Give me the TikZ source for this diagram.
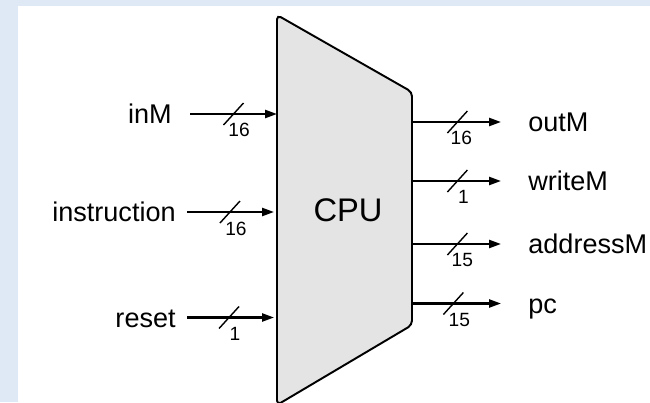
\documentclass[tikz,border=0pt]{standalone}
\usepackage{fontspec}
\setmainfont{Liberation Sans}
\usetikzlibrary{arrows.meta}

\definecolor{bgblue}{HTML}{DEE9F5}
\definecolor{cpugray}{HTML}{E4E4E4}

\tikzset{
  bus/.style={line width=1.2pt, -{Triangle[length=6.8pt,width=4.6pt]}},
  tick/.style={line width=0.8pt},
  port/.style={font=\fontsize{15.4pt}{18pt}\selectfont, inner ysep=0pt,
    text height=11pt, text depth=0pt},
  inport/.style={port, anchor=east, inner xsep=0.22cm},
  outport/.style={port, anchor=west, inner xsep=0.54cm},
  busnum/.style={font=\fontsize{10.9pt}{13pt}\selectfont, inner sep=0pt,
    text height=7.8pt, text depth=0pt},
  cpubox/.style={draw, line width=1.1pt, fill=cpugray, rounded corners=2.5pt},
}

\begin{document}
\begin{tikzpicture}
  \useasboundingbox (0,0) rectangle (13,8.04);
  \fill[bgblue] (0,0) rectangle (13,8.04);
  \fill[white] (0.36,0) rectangle (13,7.92);

  % the CPU
  \draw[cpubox] (5.54,-0.06) -- (5.54,7.74) -- (8.24,6.20) -- (8.24,1.54) -- cycle;
  \node[font=\fontsize{18.6pt}{22pt}\selectfont, text height=13.3pt, text depth=0pt,
    inner sep=0pt] (cpu) at (6.96,3.84) {CPU};

  % inputs
  \coordinate (inM-cpu) at (5.54,5.76);
  \coordinate (instruction-cpu) at (5.48,3.80);
  \coordinate (reset-cpu) at (5.48,1.69);

  \node[inport, inner xsep=0.36cm] (inM) at (3.80,5.76) {inM};
  \node[inport] (instruction) at (3.74,3.80) {instruction};
  \node[inport] (reset) at (3.74,1.69) {reset};

  \draw[bus] (inM.east) -- coordinate[pos=0.5] (inM-t) (inM-cpu);
  \draw[bus] (instruction.east) -- coordinate[pos=0.494] (instruction-t) (instruction-cpu);
  \draw[bus] (reset.east) -- coordinate[pos=0.483] (reset-t) (reset-cpu);

  \draw[tick] ([shift={(-0.2,-0.22)}]inM-t) -- ([shift={(0.2,0.22)}]inM-t);
  \draw[tick] ([shift={(-0.2,-0.22)}]instruction-t) -- ([shift={(0.2,0.22)}]instruction-t);
  \draw[tick] ([shift={(-0.2,-0.22)}]reset-t) -- ([shift={(0.2,0.22)}]reset-t);

  \node[busnum] (inM-w) at ([shift={(0.11,-0.32)}]inM-t) {16};
  \node[busnum] (instruction-w) at ([shift={(0.12,-0.33)}]instruction-t) {16};
  \node[busnum] (reset-w) at ([shift={(0.12,-0.33)}]reset-t) {1};

  % outputs
  \coordinate (outM-cpu) at (8.24,5.60);
  \coordinate (writeM-cpu) at (8.24,4.42);
  \coordinate (addressM-cpu) at (8.24,3.16);
  \coordinate (pc-cpu) at (8.24,1.97);

  \node[outport] (outM) at (10.02,5.60) {outM};
  \node[outport] (writeM) at (10.02,4.42) {writeM};
  \node[outport] (addressM) at (10.02,3.16) {addressM};
  \node[outport] (pc) at (10.02,1.97) {pc};

  \draw[bus] (outM-cpu) -- coordinate[pos=0.51] (outM-t) (outM.west);
  \draw[bus] (writeM-cpu) -- coordinate[pos=0.51] (writeM-t) (writeM.west);
  \draw[bus] (addressM-cpu) -- coordinate[pos=0.51] (addressM-t) (addressM.west);
  \draw[bus] (pc-cpu) -- coordinate[pos=0.465] (pc-t) (pc.west);

  \draw[tick] ([shift={(-0.2,-0.22)}]outM-t) -- ([shift={(0.2,0.22)}]outM-t);
  \draw[tick] ([shift={(-0.2,-0.22)}]writeM-t) -- ([shift={(0.2,0.22)}]writeM-t);
  \draw[tick] ([shift={(-0.2,-0.22)}]addressM-t) -- ([shift={(0.2,0.22)}]addressM-t);
  \draw[tick] ([shift={(-0.2,-0.22)}]pc-t) -- ([shift={(0.2,0.22)}]pc-t);

  \node[busnum] (outM-w) at ([shift={(0.08,-0.31)}]outM-t) {16};
  \node[busnum] (writeM-w) at ([shift={(0.12,-0.32)}]writeM-t) {1};
  \node[busnum] (addressM-w) at ([shift={(0.10,-0.31)}]addressM-t) {15};
  \node[busnum] (pc-w) at ([shift={(0.12,-0.33)}]pc-t) {15};
\end{tikzpicture}
\end{document}
